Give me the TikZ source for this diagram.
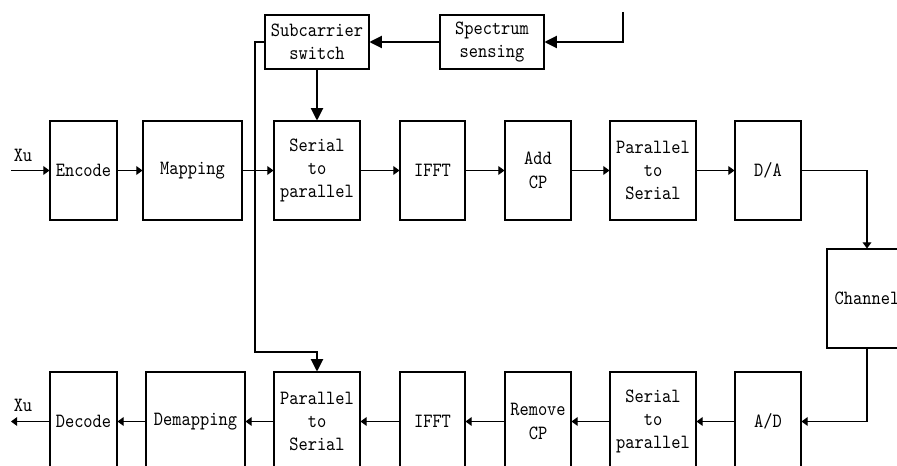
\documentclass[tikz,border=0pt]{standalone}
\usepackage{fontspec}
\setmonofont{lmmono10-regular.otf}[FakeStretch=0.87]
\usetikzlibrary{arrows.meta}

\tikzset{
  blk/.style={draw, line width=0.6pt, inner sep=0pt, align=center,
    minimum height=1.98cm, font=\ttfamily\fontsize{11.5}{13.3}\selectfont},
  ctl/.style={blk, minimum width=2.08cm, minimum height=1.08cm},
  arr/.style={line width=0.6pt, -{Triangle[length=3.5pt,width=5pt]}},
  bigarr/.style={line width=0.6pt, -{Triangle[length=7pt,width=7pt]}},
  lbl/.style={font=\ttfamily\fontsize{11.5}{12}\selectfont, inner sep=0pt}
}

\begin{document}
\begin{tikzpicture}[x=0.02cm, y=-0.02cm]
    \useasboundingbox (0,0) rectangle (897,466);

    % transmitter
    \node[blk, minimum width=1.34cm] (enc) at (83.5,170.5) {Encode};
    \node[blk, minimum width=1.98cm] (map) at (192.5,170.5) {Mapping};
    \node[blk, minimum width=1.72cm] (sp) at (317,170.5) {Serial\\to\\parallel};
    \node[blk, minimum width=1.30cm] (ifft) at (432.5,170.5) {IFFT};
    \node[blk, minimum width=1.32cm] (addcp) at (538,170.5) {Add\\CP};
    \node[blk, minimum width=1.72cm] (ps) at (653,170.5) {Parallel\\to\\Serial};
    \node[blk, minimum width=1.32cm] (da) at (768,170.5) {D/A};

    \node[blk, minimum width=1.60cm] (chan) at (867,298.5) {Channel};

    % receiver
    \node[blk, minimum width=1.32cm] (ad) at (768,421.5) {A/D};
    \node[blk, minimum width=1.72cm] (sp2) at (653,421.5) {Serial\\to\\parallel};
    \node[blk, minimum width=1.32cm] (rmcp) at (538,421.5) {Remove\\CP};
    \node[blk, minimum width=1.30cm] (ifft2) at (432.5,421.5) {IFFT};
    \node[blk, minimum width=1.72cm] (ps2) at (317,421.5) {Parallel\\to\\Serial};
    \node[blk, minimum width=1.98cm] (demap) at (195.5,421.5) {Demapping};
    \node[blk, minimum width=1.34cm] (dec) at (83.5,421.5) {Decode};

    % control
    \node[ctl] (sw) at (317,42) {Subcarrier\\switch};
    \node[ctl] (ss) at (492,42) {Spectrum\\sensing};

    \coordinate (in) at (11,170.5);
    \coordinate (out) at (11,421.5);
    \coordinate (top) at (623,12);
    \coordinate (bend1) at (255,42);
    \coordinate (bend2) at (255,352);

    \node[lbl] (xin) at (23,155) {Xu};
    \node[lbl] (xout) at (23,405) {Xu};

    \draw[arr] (in) -- (enc);
    \draw[arr] (enc) -- (map);
    \draw[arr] (map) -- (sp);
    \draw[arr] (sp) -- (ifft);
    \draw[arr] (ifft) -- (addcp);
    \draw[arr] (addcp) -- (ps);
    \draw[arr] (ps) -- (da);
    \draw[arr] (da.east) -| (chan.north);
    \draw[arr] (chan.south) |- (ad.east);
    \draw[arr] (ad) -- (sp2);
    \draw[arr] (sp2) -- (rmcp);
    \draw[arr] (rmcp) -- (ifft2);
    \draw[arr] (ifft2) -- (ps2);
    \draw[arr] (ps2) -- (demap);
    \draw[arr] (demap) -- (dec);
    \draw[arr] (dec) -- (out);

    \draw[bigarr] (top) |- (ss.east);
    \draw[bigarr] (ss) -- (sw);
    \draw[bigarr] (sw) -- (sp);
    \draw[bigarr] (sw.west) -- (bend1) -- (bend2) -| (ps2.north);

\end{tikzpicture}
\end{document}
